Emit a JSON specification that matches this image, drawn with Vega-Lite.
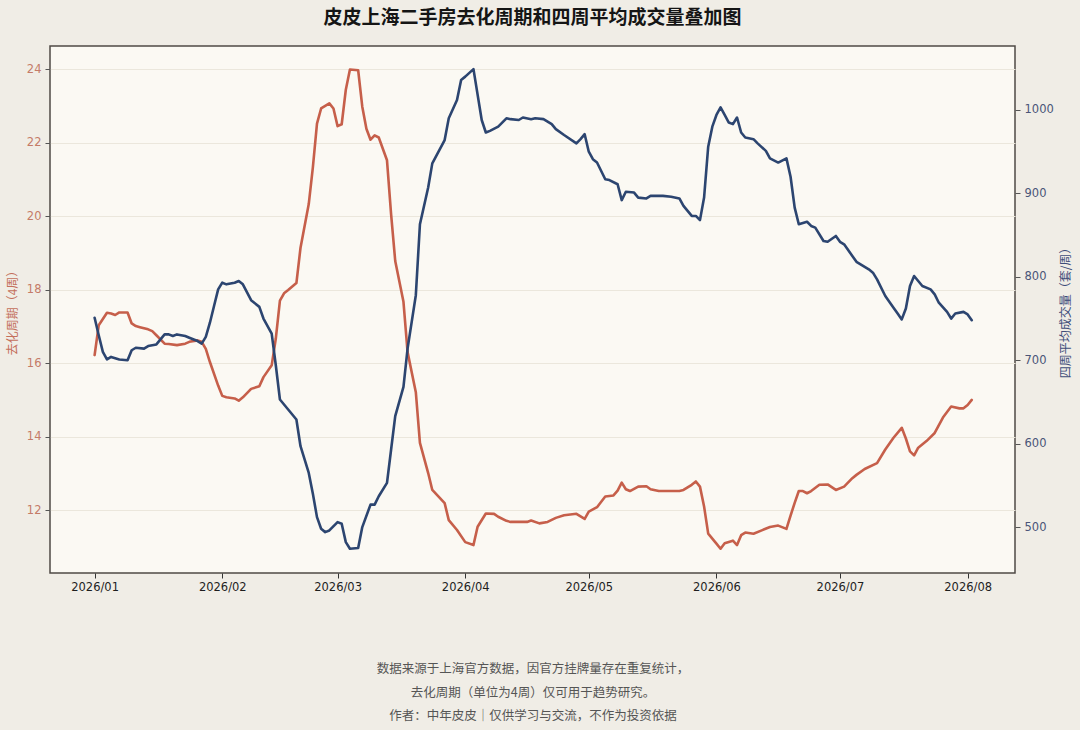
{
  "$schema": "https://vega.github.io/schema/vega-lite/v6.json",
  "width": 965,
  "height": 527,
  "autosize": {"type": "none"},
  "padding": {"left": 50, "top": 46, "right": 65, "bottom": 157},
  "background": "#f0ede6",
  "title": {
    "text": "皮皮上海二手房去化周期和四周平均成交量叠加图",
    "font": "Noto Sans CJK SC",
    "fontSize": 19,
    "fontWeight": "bold",
    "color": "#151515",
    "anchor": "middle",
    "offset": 18
  },
  "config": {
    "view": {"fill": "#fbf9f3", "stroke": "#4f4a45", "strokeWidth": 1.5},
    "axis": {
      "labelFont": "DejaVu Sans",
      "labelFontSize": 11.5,
      "titleFont": "Noto Sans CJK SC",
      "titleFontWeight": "normal",
      "titleFontSize": 12,
      "tickSize": 5,
      "tickColor": "#555555",
      "domain": false,
      "gridColor": "#ebe7dc",
      "gridWidth": 1
    }
  },
  "datasets": {
    "cycle": [
      {"date": "2026-01-01", "value": 16.22},
      {"date": "2026-01-02", "value": 17.03},
      {"date": "2026-01-04", "value": 17.37},
      {"date": "2026-01-05", "value": 17.35},
      {"date": "2026-01-06", "value": 17.31},
      {"date": "2026-01-07", "value": 17.38},
      {"date": "2026-01-09", "value": 17.38},
      {"date": "2026-01-10", "value": 17.08},
      {"date": "2026-01-11", "value": 17.01},
      {"date": "2026-01-12", "value": 16.98},
      {"date": "2026-01-14", "value": 16.92},
      {"date": "2026-01-15", "value": 16.87},
      {"date": "2026-01-16", "value": 16.76},
      {"date": "2026-01-18", "value": 16.53},
      {"date": "2026-01-19", "value": 16.52},
      {"date": "2026-01-21", "value": 16.49},
      {"date": "2026-01-23", "value": 16.53},
      {"date": "2026-01-24", "value": 16.58},
      {"date": "2026-01-26", "value": 16.62},
      {"date": "2026-01-27", "value": 16.58},
      {"date": "2026-01-28", "value": 16.39},
      {"date": "2026-01-29", "value": 16.03},
      {"date": "2026-01-31", "value": 15.39},
      {"date": "2026-02-01", "value": 15.11},
      {"date": "2026-02-02", "value": 15.07},
      {"date": "2026-02-04", "value": 15.04},
      {"date": "2026-02-05", "value": 14.98},
      {"date": "2026-02-06", "value": 15.07},
      {"date": "2026-02-08", "value": 15.30},
      {"date": "2026-02-10", "value": 15.37},
      {"date": "2026-02-11", "value": 15.62},
      {"date": "2026-02-13", "value": 15.94},
      {"date": "2026-02-14", "value": 16.67},
      {"date": "2026-02-15", "value": 17.70},
      {"date": "2026-02-16", "value": 17.90},
      {"date": "2026-02-17", "value": 17.99},
      {"date": "2026-02-19", "value": 18.18},
      {"date": "2026-02-20", "value": 19.14},
      {"date": "2026-02-22", "value": 20.33},
      {"date": "2026-02-23", "value": 21.33},
      {"date": "2026-02-24", "value": 22.52},
      {"date": "2026-02-25", "value": 22.93},
      {"date": "2026-02-27", "value": 23.07},
      {"date": "2026-02-28", "value": 22.93},
      {"date": "2026-03-01", "value": 22.45},
      {"date": "2026-03-02", "value": 22.50},
      {"date": "2026-03-03", "value": 23.44},
      {"date": "2026-03-04", "value": 23.99},
      {"date": "2026-03-06", "value": 23.97},
      {"date": "2026-03-07", "value": 22.98},
      {"date": "2026-03-08", "value": 22.38},
      {"date": "2026-03-09", "value": 22.08},
      {"date": "2026-03-10", "value": 22.20},
      {"date": "2026-03-11", "value": 22.14},
      {"date": "2026-03-13", "value": 21.52},
      {"date": "2026-03-14", "value": 20.05},
      {"date": "2026-03-15", "value": 18.78},
      {"date": "2026-03-17", "value": 17.67},
      {"date": "2026-03-18", "value": 16.30},
      {"date": "2026-03-20", "value": 15.21},
      {"date": "2026-03-21", "value": 13.83},
      {"date": "2026-03-23", "value": 13.01},
      {"date": "2026-03-24", "value": 12.55},
      {"date": "2026-03-27", "value": 12.19},
      {"date": "2026-03-28", "value": 11.73},
      {"date": "2026-03-30", "value": 11.46},
      {"date": "2026-04-01", "value": 11.13},
      {"date": "2026-04-03", "value": 11.05},
      {"date": "2026-04-04", "value": 11.55},
      {"date": "2026-04-06", "value": 11.91},
      {"date": "2026-04-08", "value": 11.90},
      {"date": "2026-04-09", "value": 11.82},
      {"date": "2026-04-11", "value": 11.71},
      {"date": "2026-04-12", "value": 11.68},
      {"date": "2026-04-14", "value": 11.68},
      {"date": "2026-04-16", "value": 11.68},
      {"date": "2026-04-17", "value": 11.72},
      {"date": "2026-04-19", "value": 11.64},
      {"date": "2026-04-21", "value": 11.68},
      {"date": "2026-04-23", "value": 11.79},
      {"date": "2026-04-25", "value": 11.86},
      {"date": "2026-04-28", "value": 11.90},
      {"date": "2026-04-30", "value": 11.76},
      {"date": "2026-05-01", "value": 11.96},
      {"date": "2026-05-03", "value": 12.08},
      {"date": "2026-05-05", "value": 12.37},
      {"date": "2026-05-07", "value": 12.40},
      {"date": "2026-05-08", "value": 12.53},
      {"date": "2026-05-09", "value": 12.75},
      {"date": "2026-05-10", "value": 12.57},
      {"date": "2026-05-11", "value": 12.52},
      {"date": "2026-05-13", "value": 12.64},
      {"date": "2026-05-15", "value": 12.65},
      {"date": "2026-05-16", "value": 12.57},
      {"date": "2026-05-18", "value": 12.52},
      {"date": "2026-05-21", "value": 12.52},
      {"date": "2026-05-23", "value": 12.52},
      {"date": "2026-05-24", "value": 12.55},
      {"date": "2026-05-26", "value": 12.69},
      {"date": "2026-05-27", "value": 12.78},
      {"date": "2026-05-28", "value": 12.64},
      {"date": "2026-05-29", "value": 12.10},
      {"date": "2026-05-30", "value": 11.36},
      {"date": "2026-06-01", "value": 11.09},
      {"date": "2026-06-02", "value": 10.95},
      {"date": "2026-06-03", "value": 11.10},
      {"date": "2026-06-05", "value": 11.17},
      {"date": "2026-06-06", "value": 11.05},
      {"date": "2026-06-07", "value": 11.32},
      {"date": "2026-06-08", "value": 11.39},
      {"date": "2026-06-10", "value": 11.36},
      {"date": "2026-06-12", "value": 11.45},
      {"date": "2026-06-14", "value": 11.54},
      {"date": "2026-06-16", "value": 11.58},
      {"date": "2026-06-18", "value": 11.49},
      {"date": "2026-06-19", "value": 11.85},
      {"date": "2026-06-20", "value": 12.20},
      {"date": "2026-06-21", "value": 12.52},
      {"date": "2026-06-22", "value": 12.52},
      {"date": "2026-06-23", "value": 12.46},
      {"date": "2026-06-24", "value": 12.52},
      {"date": "2026-06-26", "value": 12.69},
      {"date": "2026-06-28", "value": 12.70},
      {"date": "2026-06-30", "value": 12.55},
      {"date": "2026-07-02", "value": 12.64},
      {"date": "2026-07-04", "value": 12.87},
      {"date": "2026-07-05", "value": 12.96},
      {"date": "2026-07-07", "value": 13.12},
      {"date": "2026-07-10", "value": 13.28},
      {"date": "2026-07-12", "value": 13.65},
      {"date": "2026-07-14", "value": 13.97},
      {"date": "2026-07-16", "value": 14.24},
      {"date": "2026-07-17", "value": 13.95},
      {"date": "2026-07-18", "value": 13.60},
      {"date": "2026-07-19", "value": 13.49},
      {"date": "2026-07-20", "value": 13.70},
      {"date": "2026-07-22", "value": 13.88},
      {"date": "2026-07-24", "value": 14.10},
      {"date": "2026-07-26", "value": 14.52},
      {"date": "2026-07-28", "value": 14.82},
      {"date": "2026-07-30", "value": 14.77},
      {"date": "2026-07-31", "value": 14.77},
      {"date": "2026-08-01", "value": 14.86},
      {"date": "2026-08-02", "value": 15.00}
    ],
    "volume": [
      {"date": "2026-01-01", "value": 751},
      {"date": "2026-01-02", "value": 730},
      {"date": "2026-01-03", "value": 710},
      {"date": "2026-01-04", "value": 701},
      {"date": "2026-01-05", "value": 704},
      {"date": "2026-01-07", "value": 701},
      {"date": "2026-01-09", "value": 700},
      {"date": "2026-01-10", "value": 712},
      {"date": "2026-01-11", "value": 715},
      {"date": "2026-01-13", "value": 714},
      {"date": "2026-01-14", "value": 717},
      {"date": "2026-01-16", "value": 719},
      {"date": "2026-01-17", "value": 725},
      {"date": "2026-01-18", "value": 731},
      {"date": "2026-01-19", "value": 731},
      {"date": "2026-01-20", "value": 729},
      {"date": "2026-01-21", "value": 731},
      {"date": "2026-01-23", "value": 729},
      {"date": "2026-01-24", "value": 727},
      {"date": "2026-01-26", "value": 723},
      {"date": "2026-01-27", "value": 720},
      {"date": "2026-01-28", "value": 728},
      {"date": "2026-01-29", "value": 745},
      {"date": "2026-01-30", "value": 765},
      {"date": "2026-01-31", "value": 785},
      {"date": "2026-02-01", "value": 793},
      {"date": "2026-02-02", "value": 791},
      {"date": "2026-02-04", "value": 793},
      {"date": "2026-02-05", "value": 795},
      {"date": "2026-02-06", "value": 791},
      {"date": "2026-02-08", "value": 772},
      {"date": "2026-02-10", "value": 764},
      {"date": "2026-02-11", "value": 750},
      {"date": "2026-02-13", "value": 732},
      {"date": "2026-02-14", "value": 694},
      {"date": "2026-02-15", "value": 653},
      {"date": "2026-02-17", "value": 641},
      {"date": "2026-02-19", "value": 629},
      {"date": "2026-02-20", "value": 597},
      {"date": "2026-02-22", "value": 565},
      {"date": "2026-02-23", "value": 540},
      {"date": "2026-02-24", "value": 512},
      {"date": "2026-02-25", "value": 498},
      {"date": "2026-02-26", "value": 494},
      {"date": "2026-02-27", "value": 496},
      {"date": "2026-03-01", "value": 506},
      {"date": "2026-03-02", "value": 504},
      {"date": "2026-03-03", "value": 482},
      {"date": "2026-03-04", "value": 474},
      {"date": "2026-03-06", "value": 475},
      {"date": "2026-03-07", "value": 500},
      {"date": "2026-03-09", "value": 527},
      {"date": "2026-03-10", "value": 527},
      {"date": "2026-03-11", "value": 537},
      {"date": "2026-03-13", "value": 553},
      {"date": "2026-03-14", "value": 593},
      {"date": "2026-03-15", "value": 633},
      {"date": "2026-03-17", "value": 668},
      {"date": "2026-03-18", "value": 714},
      {"date": "2026-03-20", "value": 778},
      {"date": "2026-03-21", "value": 863},
      {"date": "2026-03-23", "value": 907},
      {"date": "2026-03-24", "value": 936},
      {"date": "2026-03-27", "value": 964},
      {"date": "2026-03-28", "value": 990},
      {"date": "2026-03-30", "value": 1012},
      {"date": "2026-03-31", "value": 1036},
      {"date": "2026-04-01", "value": 1040},
      {"date": "2026-04-03", "value": 1049},
      {"date": "2026-04-05", "value": 988},
      {"date": "2026-04-06", "value": 973},
      {"date": "2026-04-07", "value": 975},
      {"date": "2026-04-09", "value": 980},
      {"date": "2026-04-11", "value": 990},
      {"date": "2026-04-12", "value": 989},
      {"date": "2026-04-14", "value": 988},
      {"date": "2026-04-15", "value": 991},
      {"date": "2026-04-17", "value": 989},
      {"date": "2026-04-18", "value": 990},
      {"date": "2026-04-20", "value": 989},
      {"date": "2026-04-22", "value": 983},
      {"date": "2026-04-23", "value": 977},
      {"date": "2026-04-25", "value": 970},
      {"date": "2026-04-28", "value": 960},
      {"date": "2026-04-29", "value": 965},
      {"date": "2026-04-30", "value": 971},
      {"date": "2026-05-01", "value": 950},
      {"date": "2026-05-02", "value": 941},
      {"date": "2026-05-03", "value": 937},
      {"date": "2026-05-05", "value": 917},
      {"date": "2026-05-06", "value": 916},
      {"date": "2026-05-08", "value": 911},
      {"date": "2026-05-09", "value": 892},
      {"date": "2026-05-10", "value": 902},
      {"date": "2026-05-12", "value": 901},
      {"date": "2026-05-13", "value": 895},
      {"date": "2026-05-15", "value": 894},
      {"date": "2026-05-16", "value": 897},
      {"date": "2026-05-18", "value": 897},
      {"date": "2026-05-19", "value": 897},
      {"date": "2026-05-21", "value": 896},
      {"date": "2026-05-23", "value": 894},
      {"date": "2026-05-24", "value": 885},
      {"date": "2026-05-25", "value": 879},
      {"date": "2026-05-26", "value": 873},
      {"date": "2026-05-27", "value": 873},
      {"date": "2026-05-28", "value": 868},
      {"date": "2026-05-29", "value": 895},
      {"date": "2026-05-30", "value": 956},
      {"date": "2026-05-31", "value": 980},
      {"date": "2026-06-01", "value": 994},
      {"date": "2026-06-02", "value": 1003},
      {"date": "2026-06-03", "value": 994},
      {"date": "2026-06-04", "value": 985},
      {"date": "2026-06-05", "value": 983},
      {"date": "2026-06-06", "value": 991},
      {"date": "2026-06-07", "value": 973},
      {"date": "2026-06-08", "value": 967},
      {"date": "2026-06-10", "value": 965},
      {"date": "2026-06-11", "value": 960},
      {"date": "2026-06-13", "value": 951},
      {"date": "2026-06-14", "value": 942},
      {"date": "2026-06-16", "value": 937},
      {"date": "2026-06-18", "value": 942},
      {"date": "2026-06-19", "value": 920},
      {"date": "2026-06-20", "value": 883},
      {"date": "2026-06-21", "value": 863},
      {"date": "2026-06-23", "value": 866},
      {"date": "2026-06-24", "value": 861},
      {"date": "2026-06-25", "value": 859},
      {"date": "2026-06-27", "value": 843},
      {"date": "2026-06-28", "value": 842},
      {"date": "2026-06-30", "value": 849},
      {"date": "2026-07-01", "value": 842},
      {"date": "2026-07-02", "value": 839},
      {"date": "2026-07-04", "value": 825},
      {"date": "2026-07-05", "value": 818},
      {"date": "2026-07-08", "value": 809},
      {"date": "2026-07-09", "value": 805},
      {"date": "2026-07-10", "value": 797},
      {"date": "2026-07-12", "value": 777},
      {"date": "2026-07-14", "value": 763},
      {"date": "2026-07-15", "value": 756},
      {"date": "2026-07-16", "value": 749},
      {"date": "2026-07-17", "value": 762},
      {"date": "2026-07-18", "value": 789},
      {"date": "2026-07-19", "value": 801},
      {"date": "2026-07-20", "value": 795},
      {"date": "2026-07-21", "value": 789},
      {"date": "2026-07-23", "value": 785},
      {"date": "2026-07-24", "value": 779},
      {"date": "2026-07-25", "value": 769},
      {"date": "2026-07-27", "value": 758},
      {"date": "2026-07-28", "value": 750},
      {"date": "2026-07-29", "value": 756},
      {"date": "2026-07-31", "value": 758},
      {"date": "2026-08-01", "value": 755},
      {"date": "2026-08-02", "value": 748}
    ]
  },
  "encoding": {
    "x": {
      "field": "date",
      "type": "temporal",
      "scale": {
        "type": "utc",
        "domain": [
          {"year": 2025, "month": 12, "date": 21, "hours": 4, "utc": true},
          {"year": 2026, "month": 8, "date": 12, "hours": 12, "utc": true}
        ]
      },
      "axis": {
        "values": [
          {"year": 2026, "month": 1, "date": 1, "utc": true},
          {"year": 2026, "month": 2, "date": 1, "utc": true},
          {"year": 2026, "month": 3, "date": 1, "utc": true},
          {"year": 2026, "month": 4, "date": 1, "utc": true},
          {"year": 2026, "month": 5, "date": 1, "utc": true},
          {"year": 2026, "month": 6, "date": 1, "utc": true},
          {"year": 2026, "month": 7, "date": 1, "utc": true},
          {"year": 2026, "month": 8, "date": 1, "utc": true}
        ],
        "format": "%Y/%m",
        "grid": false,
        "labelColor": "#1e1e1e",
        "labelPadding": 3,
        "tickColor": "#333333",
        "title": [
          "数据来源于上海官方数据，因官方挂牌量存在重复统计，",
          "去化周期（单位为4周）仅可用于趋势研究。",
          "作者：中年皮皮｜仅供学习与交流，不作为投资依据"
        ],
        "titleFontSize": 12.5,
        "titleColor": "#555555",
        "titleLineHeight": 23.5,
        "titlePadding": 70
      }
    }
  },
  "layer": [
    {
      "data": {"name": "cycle"},
      "mark": {"type": "line", "color": "#c65f4a", "strokeWidth": 2.6, "strokeJoin": "round", "strokeCap": "round"},
      "encoding": {
        "y": {
          "field": "value",
          "type": "quantitative",
          "scale": {"domain": [10.29, 24.63], "nice": false, "zero": false},
          "axis": {
            "orient": "left",
            "title": "去化周期（4周）",
            "values": [12, 14, 16, 18, 20, 22, 24],
            "labelColor": "#c47b68",
            "titleColor": "#c4705c",
            "labelPadding": 4,
            "titlePadding": 7
          }
        }
      }
    },
    {
      "data": {"name": "volume"},
      "mark": {"type": "line", "color": "#2c4570", "strokeWidth": 2.6, "strokeJoin": "round", "strokeCap": "round"},
      "encoding": {
        "y": {
          "field": "value",
          "type": "quantitative",
          "scale": {"domain": [445, 1076.7], "nice": false, "zero": false},
          "axis": {
            "orient": "right",
            "title": "四周平均成交量（套/周）",
            "values": [500, 600, 700, 800, 900, 1000],
            "format": "d",
            "labelColor": "#4a5578",
            "titleColor": "#3f4d7a",
            "titleAngle": 270,
            "labelPadding": 4,
            "titlePadding": 19
          }
        }
      }
    }
  ],
  "resolve": {"scale": {"y": "independent"}}
}
